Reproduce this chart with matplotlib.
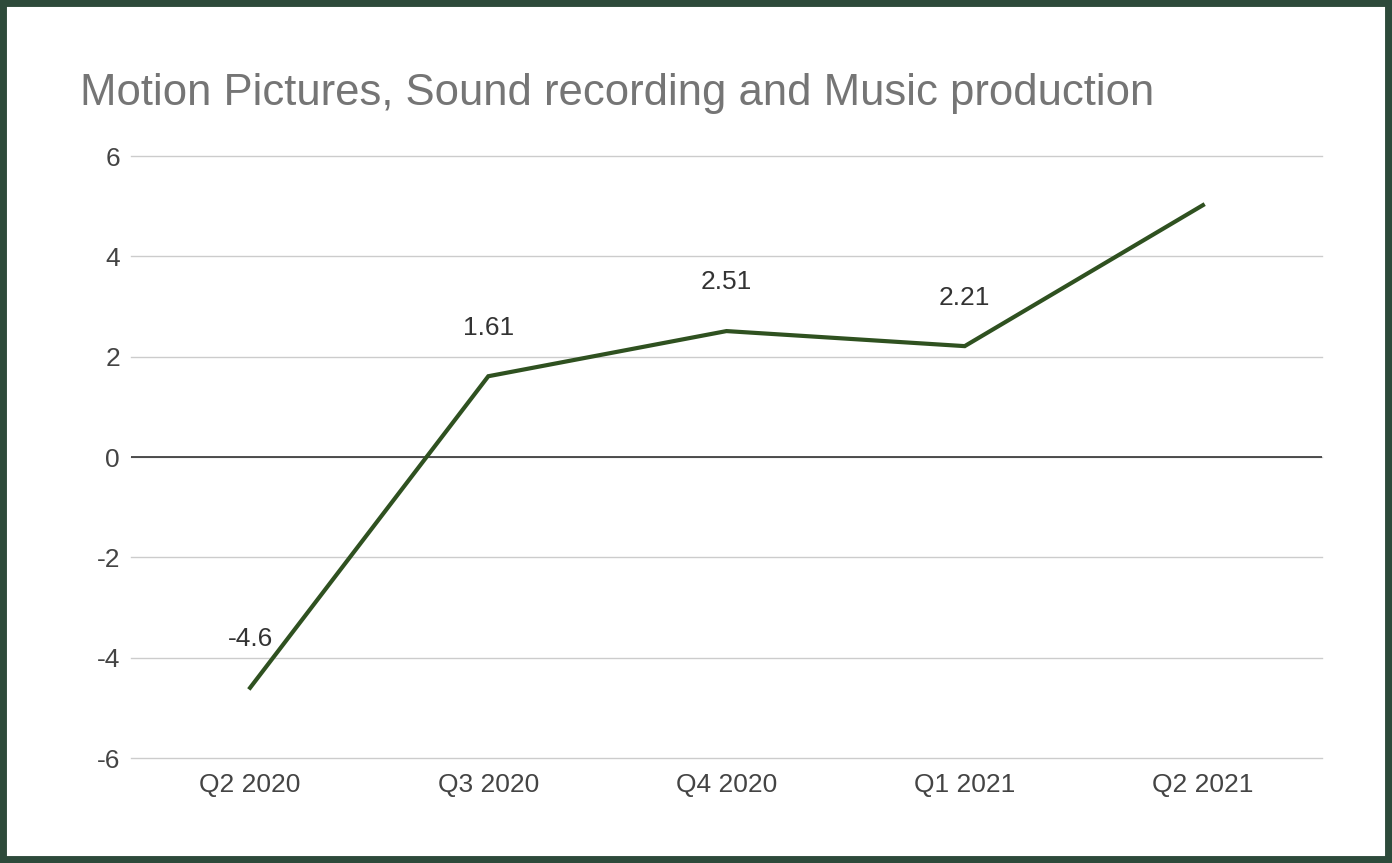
import matplotlib.pyplot as plt
from matplotlib.patches import Rectangle

# data
quarters = ['Q2 2020', 'Q3 2020', 'Q4 2020', 'Q1 2021', 'Q2 2021']
values = [-4.6, 1.61, 2.51, 2.21, 5.02]
labels = ['-4.6', '1.61', '2.51', '2.21', '']
yticks = [-6, -4, -2, 0, 2, 4, 6]

plt.rcParams['font.family'] = ['Liberation Sans', 'DejaVu Sans']
plt.rcParams['axes.unicode_minus'] = False

fig = plt.figure(figsize=(13.92, 8.63), dpi=100)
ax = fig.add_axes([131 / 1392, 1 - 758 / 863, (1322 - 131) / 1392, (758 - 156) / 863])

x = list(range(len(quarters)))
ax.plot(x, values, color='#2f5120', linewidth=3, solid_joinstyle='miter', zorder=3)
for xi, v, lab in zip(x, values, labels):
    if lab:
        ax.annotate(lab, (xi, v), xytext=(0, 35), textcoords='offset points',
                    ha='center', va='center', fontsize=19, color='#333333')

ax.set_xlim(-0.5, 4.5)
ax.set_ylim(-6, 6)
ax.set_yticks(yticks)
ax.set_xticks(x)
ax.set_xticklabels(quarters)
ax.grid(axis='y', color='#cccccc', linewidth=1)
for gl in ax.get_ygridlines():
    gl.set_clip_on(False)
ax.axhline(0, color='#333333', linewidth=1.2, zorder=2)
for s in ax.spines.values():
    s.set_visible(False)
ax.tick_params(length=0, labelsize=19, labelcolor='#444444')
ax.tick_params(axis='y', pad=8)
ax.tick_params(axis='x', pad=11)
ax.set_axisbelow(True)

fig.text(80 / 1392, 1 - 94 / 863, 'Motion Pictures, Sound recording and Music production',
         fontsize=31.4, color='#757575', ha='left', va='center')

# dark green frame
fig.patches.append(Rectangle((0, 0), 1, 1, transform=fig.transFigure, fill=False,
                             edgecolor='#2d4a3a', linewidth=10))

fig.savefig('out.png', dpi=100)
